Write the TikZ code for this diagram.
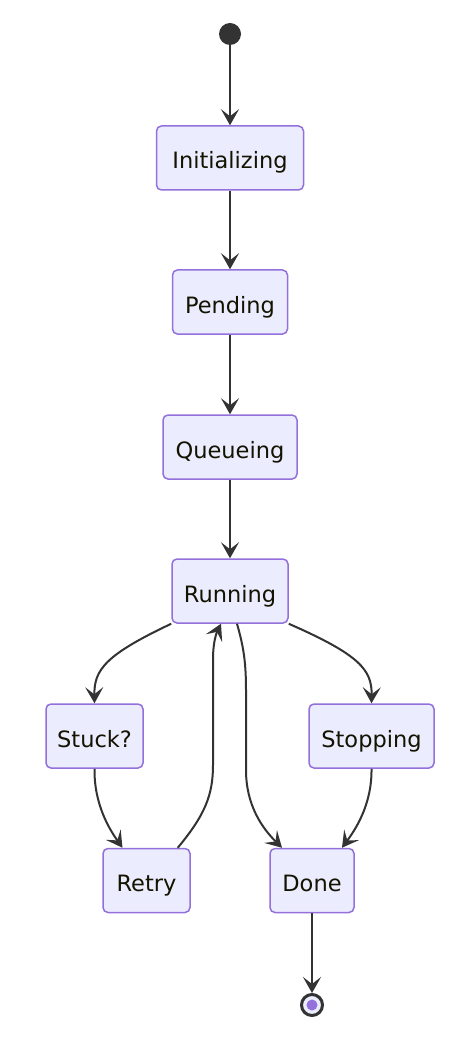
\documentclass[tikz,border=0pt]{standalone}
\usepackage{fontspec}
\setmainfont{DejaVu Sans}
\usetikzlibrary{arrows.meta}
\definecolor{boxfill}{HTML}{ECECFF}
\definecolor{boxline}{HTML}{9370DB}
\definecolor{edgecol}{HTML}{333333}
\definecolor{txtcol}{HTML}{131300}
\begin{document}
\begin{tikzpicture}[x=1pt,y=-1pt,
  state/.style={draw=boxline,fill=boxfill,line width=1.5pt,rounded corners=5pt,
    text=txtcol,font=\fontsize{22.5}{26}\selectfont,inner sep=0pt,minimum height=64pt,
    text height=22pt,text depth=0pt},
  edge/.style={draw=edgecol,line width=2pt,-{Stealth[length=16pt,width=18pt,inset=7pt]}}
]
\useasboundingbox[fill=white] (0,0) rectangle (463,1056);
\node[circle,fill=edgecol,minimum size=22pt,inner sep=0pt] (start) at (230,34) {};
\node[state,minimum width=147pt] (init) at (230,158) {Initializing};
\node[state,minimum width=115pt] (pend) at (230,302) {Pending};
\node[state,minimum width=134pt] (queue) at (230,447) {Queueing};
\node[state,minimum width=116pt] (run) at (230,591) {Running};
\node[state,minimum width=97pt] (stuck) at (94.5,736) {Stuck?};
\node[state,minimum width=125pt] (stop) at (371.5,736) {Stopping};
\node[state,minimum width=87pt] (retry) at (146.5,880.5) {Retry};
\node[state,minimum width=84pt] (done) at (312,880.5) {Done};
\node[circle,draw=edgecol,line width=3pt,fill=boxfill,minimum size=21pt,inner sep=0pt] (end) at (312,1005) {};
\fill[boxline] (end.center) circle (5.5pt);

\draw[edge] (start) -- (init);
\draw[edge] (init) -- (pend);
\draw[edge] (pend) -- (queue);
\draw[edge] (queue) -- (run);
\draw[edge] (run.south west) .. controls (105,655) and (94,670) .. (stuck.north);
\draw[edge] (run.south east) .. controls (360,655) and (372,670) .. (stop.north);
\draw[edge] (stuck.south) .. controls (94,805) and (110,830) .. ([xshift=-24pt]retry.north);
\draw[edge] (stop.south) .. controls (372,805) and (355,830) .. ([xshift=30pt]done.north);
\draw[edge] ([xshift=-13pt]retry.north east) .. controls (205,815) and (213,795) .. (213,765) -- (213,660) .. controls (213,640) and (217,632) .. ([xshift=-9pt]run.south);
\draw[edge] ([xshift=7pt]run.south) .. controls (243,645) and (246,660) .. (246,690) -- (246,770) .. controls (246,805) and (262,828) .. ([xshift=-30pt]done.north);
\draw[edge] (done) -- (end);
\end{tikzpicture}
\end{document}
